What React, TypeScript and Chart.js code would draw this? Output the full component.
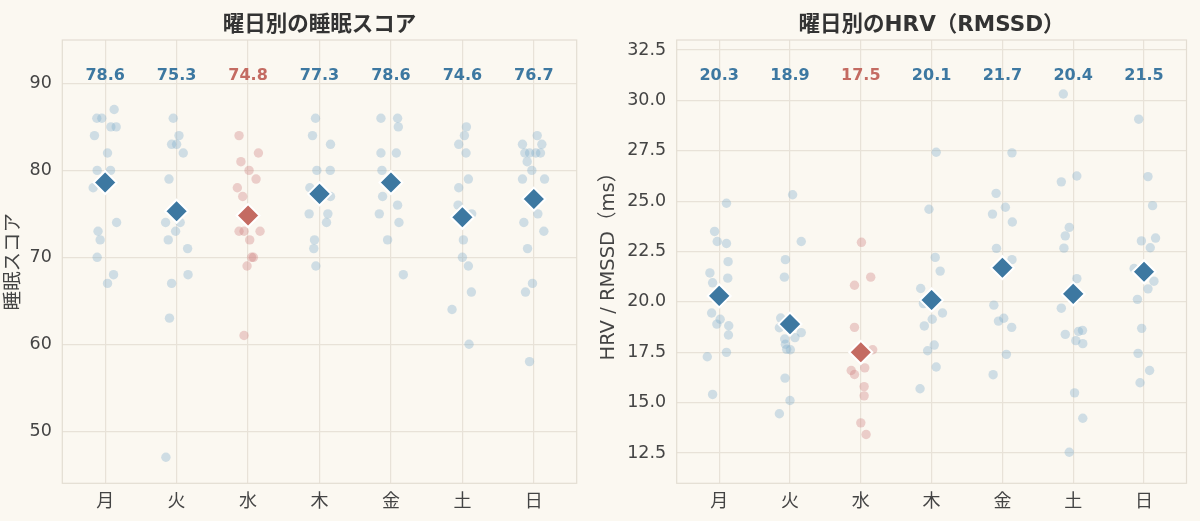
import React, { useEffect, useRef } from 'react';
import { Chart, registerables } from 'chart.js';

Chart.register(...registerables);

// ---------- data ----------
const days = ['月', '火', '水', '木', '金', '土', '日'];
const highlightDay = '水';

const sleepTicks = [50, 60, 70, 80, 90];
const hrvTicks = [12.5, 15, 17.5, 20, 22.5, 25, 27.5, 30, 32.5];

const sleepMeans = [78.6, 75.3, 74.8, 77.3, 78.6, 74.6, 76.7];
const hrvMeans = [20.3, 18.9, 17.5, 20.1, 21.7, 20.4, 21.5];

const sleepByDay = [
  [86, 86, 87, 85, 85, 84, 82, 80, 80, 78, 74, 73, 72, 70, 67, 68],
  [86, 84, 83, 83, 82, 79, 74, 74, 73, 72, 71, 67, 68, 63, 47],
  [84, 82, 81, 80, 79, 78, 77, 73, 73, 73, 72, 70, 70, 69, 61],
  [86, 84, 83, 80, 80, 78, 77, 75, 75, 74, 72, 71, 69],
  [86, 86, 85, 82, 82, 80, 77, 76, 75, 74, 72, 68],
  [85, 84, 83, 82, 79, 78, 76, 75, 72, 70, 69, 66, 64, 60],
  [84, 83, 83, 82, 82, 82, 82, 81, 80, 79, 79, 75, 74, 73, 71, 67, 66, 58],
];
const sleepJitter = [
  [-0.117, -0.047, 0.126, 0.08, 0.154, -0.15, 0.033, -0.112, 0.075, -0.168, 0.16, -0.1, -0.07, -0.112, 0.033, 0.117],
  [-0.047, 0.033, -0.07, 0, 0.093, -0.107, -0.154, 0.05, -0.014, -0.117, 0.154, -0.07, 0.16, -0.1, -0.15],
  [-0.126, 0.145, -0.1, 0.014, 0.112, -0.15, -0.075, -0.126, -0.056, 0.168, 0.023, 0.05, 0.075, -0.014, -0.056],
  [-0.056, -0.098, 0.154, -0.037, 0.15, -0.135, 0.154, -0.145, 0.117, 0.098, -0.07, -0.08, -0.051],
  [-0.14, 0.093, 0.103, -0.14, 0.075, -0.126, -0.117, 0.093, -0.163, 0.112, -0.047, 0.173],
  [0.056, 0.028, -0.051, 0.051, 0.084, -0.051, -0.06, 0.13, 0.014, 0, 0.084, 0.126, -0.145, 0.093],
  [0.047, -0.159, 0.112, -0.126, -0.06, 0.028, 0.093, -0.093, -0.028, -0.159, 0.15, 0.056, -0.14, 0.14, -0.088, -0.019, -0.117, -0.06],
];

const hrvByDay = [
  [24.9, 23.5, 23.0, 22.9, 22.0, 21.44, 21.18, 20.95, 19.45, 19.14, 18.9, 18.82, 18.36, 17.28, 17.5, 15.41],
  [25.32, 23.0, 22.1, 21.23, 19.2, 18.72, 18.16, 17.9, 18.23, 18.48, 17.63, 17.65, 16.22, 15.11, 14.45],
  [22.96, 21.23, 20.83, 18.74, 17.63, 16.6, 16.4, 16.73, 15.8, 15.34, 14.0, 13.42],
  [27.43, 24.6, 22.21, 21.53, 20.67, 19.92, 19.45, 19.14, 18.81, 17.86, 17.58, 16.77, 15.69],
  [27.4, 25.39, 24.7, 24.36, 23.97, 22.66, 22.1, 19.84, 19.05, 19.19, 18.74, 17.4, 16.39],
  [30.32, 26.25, 25.96, 23.7, 23.28, 22.67, 21.16, 19.69, 18.39, 18.54, 18.59, 18.08, 17.93, 15.49, 14.23, 12.54],
  [29.07, 26.22, 24.78, 23.03, 23.17, 22.69, 21.66, 21.03, 20.65, 20.13, 18.69, 17.45, 16.6, 15.99],
];
const hrvJitter = [
  [0.103, -0.065, -0.028, 0.103, 0.126, -0.131, 0.121, -0.093, -0.107, 0.014, -0.033, 0.135, 0.131, -0.168, 0.103, -0.093],
  [0.037, 0.159, -0.065, -0.079, -0.131, -0.15, -0.075, -0.065, 0.07, 0.159, 0.005, -0.047, -0.07, 0, -0.15],
  [0.009, 0.14, -0.089, -0.089, 0.168, -0.135, -0.089, 0.056, 0.047, 0.047, 0, 0.075],
  [0.065, -0.037, 0.051, 0.121, -0.154, -0.116, 0.154, 0.009, -0.103, 0.037, -0.056, 0.065, -0.163],
  [0.135, -0.089, 0.042, -0.14, 0.14, -0.084, 0.135, -0.121, -0.056, 0.019, 0.131, 0.056, -0.131],
  [-0.14, 0.051, -0.168, -0.056, -0.112, -0.131, 0.051, -0.168, -0.112, 0.075, 0.131, 0.037, 0.135, 0.019, 0.135, -0.056],
  [-0.075, 0.056, 0.121, -0.037, 0.163, 0.088, -0.14, 0.14, 0.056, -0.093, -0.033, -0.084, 0.079, -0.056],
];

// ---------- style ----------
const FONT = "'DejaVu Sans', 'Noto Sans CJK JP', sans-serif";
const BG = '#FBF8F1';
const GRID = '#E8E2D8';
const FRAME = '#E3DDD2';
const TEXT = '#444444';
const TITLE = '#333333';
const BLUE = '#3D78A1';
const RED = '#C46B62';
const BLUE_PT = 'rgba(125,171,203,0.35)';
const RED_PT = 'rgba(205,125,126,0.35)';

type PanelCfg = {
  title: string;
  yTitle: string;
  yMin: number;
  yMax: number;
  ticks: number[];
  decimals: number;
  means: number[];
  values: number[][];
  jitter: number[][];
  yAxisWidth: number;
  rightPad: number;
};

function buildChart(canvas: HTMLCanvasElement, cfg: PanelCfg) {
  const pts: { x: number; y: number }[] = [];
  const ptColors: string[] = [];
  cfg.values.forEach((arr, d) => {
    arr.forEach((v, k) => {
      pts.push({ x: d + cfg.jitter[d][k], y: v });
      ptColors.push(days[d] === highlightDay ? RED_PT : BLUE_PT);
    });
  });
  const meanPts = cfg.means.map((m, d) => ({ x: d, y: m }));
  const meanColors = cfg.means.map((_, d) => (days[d] === highlightDay ? RED : BLUE));

  const decorPlugin = {
    id: 'decor',
    beforeDatasetsDraw(chart: any) {
      const { ctx, chartArea } = chart;
      ctx.save();
      ctx.strokeStyle = FRAME;
      ctx.lineWidth = 1.2;
      ctx.strokeRect(chartArea.left, chartArea.top, chartArea.right - chartArea.left, chartArea.bottom - chartArea.top);
      ctx.restore();
    },
    afterDraw(chart: any) {
      const { ctx, chartArea, scales } = chart;
      ctx.save();
      ctx.textAlign = 'center';
      ctx.textBaseline = 'middle';
      ctx.fillStyle = TITLE;
      ctx.font = `bold 21.5px ${FONT}`;
      ctx.fillText(cfg.title, (chartArea.left + chartArea.right) / 2, chartArea.top - 15);
      ctx.font = `bold 16px ${FONT}`;
      cfg.means.forEach((m, d) => {
        ctx.fillStyle = days[d] === highlightDay ? RED : BLUE;
        ctx.fillText(m.toFixed(1), scales.x.getPixelForValue(d), chartArea.top + 36);
      });
      ctx.restore();
    },
  };

  return new Chart(canvas, {
    type: 'scatter',
    data: {
      datasets: [
        {
          label: 'mean',
          data: meanPts,
          order: 0,
          pointStyle: 'rectRot',
          pointRadius: 11.5,
          pointBackgroundColor: meanColors,
          pointBorderColor: '#ffffff',
          pointBorderWidth: 2,
        },
        {
          label: 'values',
          data: pts,
          order: 1,
          pointRadius: 4.7,
          pointBackgroundColor: ptColors,
          pointBorderWidth: 0,
        },
      ],
    },
    options: {
      animation: false,
      responsive: false,
      layout: { padding: { top: 40, right: cfg.rightPad, left: 0, bottom: 0 } },
      plugins: { legend: { display: false }, tooltip: { enabled: false } },
      scales: {
        x: {
          type: 'linear',
          min: -0.6,
          max: 6.6,
          afterBuildTicks: (s: any) => {
            s.ticks = days.map((_, i) => ({ value: i }));
          },
          afterFit: (s: any) => {
            s.height = 37.7;
          },
          ticks: {
            callback: (v: any) => days[Math.round(Number(v))] ?? '',
            color: TEXT,
            font: { family: FONT, size: 18 },
            padding: 8,
            maxRotation: 0,
          },
          grid: { color: GRID, lineWidth: 1.2, drawTicks: false },
          border: { display: false },
        },
        y: {
          type: 'linear',
          min: cfg.yMin,
          max: cfg.yMax,
          afterBuildTicks: (s: any) => {
            s.ticks = cfg.ticks.map((v) => ({ value: v }));
          },
          afterFit: (s: any) => {
            s.width = cfg.yAxisWidth;
          },
          ticks: {
            callback: (v: any) => Number(v).toFixed(cfg.decimals),
            color: TEXT,
            font: { family: FONT, size: 17.5 },
            padding: 10.5,
          },
          grid: { color: GRID, lineWidth: 1.2, drawTicks: false },
          border: { display: false },
          title: {
            display: true,
            text: cfg.yTitle,
            color: TEXT,
            font: { family: FONT, size: 19.5 },
            padding: { top: 2, bottom: 0 },
          },
        },
      },
    },
    plugins: [decorPlugin],
  } as any);
}

function Panel({ cfg, width, left }: { cfg: PanelCfg; width: number; left: number }) {
  const ref = useRef<HTMLCanvasElement | null>(null);
  useEffect(() => {
    if (!ref.current) return;
    const chart = buildChart(ref.current, cfg);
    return () => chart.destroy();
  }, []);
  return (
    <div style={{ position: 'absolute', left, top: 0, width, height: 521 }}>
      <canvas ref={ref} width={width} height={521} style={{ width, height: 521, display: 'block' }} />
    </div>
  );
}

const sleepCfg: PanelCfg = {
  title: '曜日別の睡眠スコア',
  yTitle: '睡眠スコア',
  yMin: 44,
  yMax: 95,
  ticks: sleepTicks,
  decimals: 0,
  means: sleepMeans,
  values: sleepByDay,
  jitter: sleepJitter,
  yAxisWidth: 62.3,
  rightPad: 595 - 576.7,
};

const hrvCfg: PanelCfg = {
  title: '曜日別のHRV（RMSSD）',
  yTitle: 'HRV / RMSSD（ms）',
  yMin: 11,
  yMax: 33,
  ticks: hrvTicks,
  decimals: 1,
  means: hrvMeans,
  values: hrvByDay,
  jitter: hrvJitter,
  yAxisWidth: 81.7,
  rightPad: 605 - 595.7,
};

export default function App() {
  return (
    <div style={{ position: 'fixed', left: 0, top: 0, width: 1200, height: 521, background: BG, overflow: 'hidden' }}>
      <Panel cfg={sleepCfg} width={595} left={0} />
      <Panel cfg={hrvCfg} width={605} left={595} />
    </div>
  );
}
